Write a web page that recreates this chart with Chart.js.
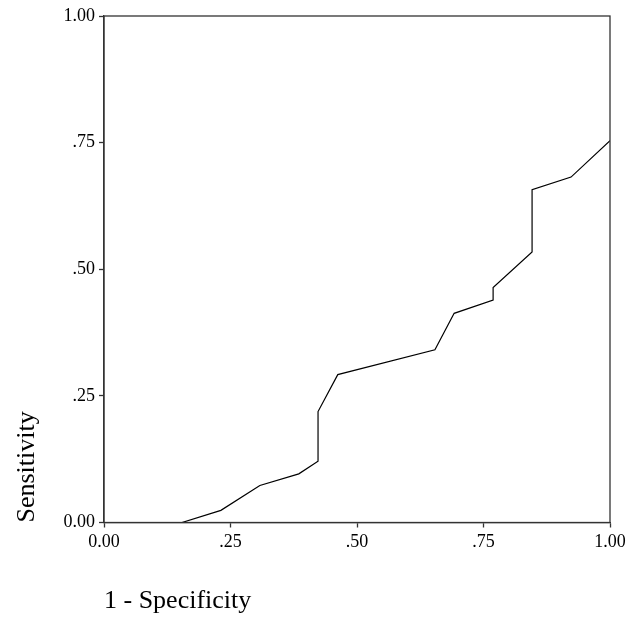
<!DOCTYPE html>
<html>
<head>
<meta charset="utf-8">
<script src="https://cdn.jsdelivr.net/npm/chart.js@4/dist/chart.umd.min.js"></script>
<style>
  html, body { margin: 0; padding: 0; background: #fff; }
  #box { width: 633px; height: 621px; }
</style>
</head>
<body>
<div id="box"><canvas id="roc"></canvas></div>
<script>
// ROC curve values
const specComplement = [0, 0.154, 0.231, 0.308, 0.385, 0.423, 0.423, 0.462, 0.654, 0.692, 0.769, 0.769, 0.846, 0.846, 0.923, 1];
const sensitivity    = [0, 0,     0.024, 0.073, 0.096, 0.121, 0.219, 0.292, 0.341, 0.413, 0.439, 0.464, 0.534, 0.657, 0.682, 0.754];
const tickValues = [0, 0.25, 0.5, 0.75, 1];
const tickLabels = ['0.00', '.25', '.50', '.75', '1.00'];

const pts = specComplement.map((x, i) => ({ x: x, y: sensitivity[i] }));

function labelFor(v) {
    const i = tickValues.findIndex(t => Math.abs(t - v) < 1e-6);
    return i >= 0 ? tickLabels[i] : '';
}

// draws the frame round the plot area (top and right sides)
const frame = {
    id: 'frame',
    afterDraw(chart) {
        const a = chart.chartArea;
        const c = chart.ctx;
        c.save();
        c.strokeStyle = '#333';
        c.lineWidth = 1.3;
        c.strokeRect(a.left, a.top, a.right - a.left, a.bottom - a.top);
        c.restore();
    }
};

const serif = 'Liberation Serif, Times New Roman, serif';

new Chart(document.getElementById('roc'), {
    type: 'scatter',
    data: {
        datasets: [{
            data: pts,
            showLine: true,
            borderColor: '#000',
            borderWidth: 1.2,
            pointRadius: 0,
            tension: 0
        }]
    },
    options: {
        responsive: true,
        maintainAspectRatio: false,
        animation: false,
        layout: { padding: { top: 16, right: 23, left: 0, bottom: 0 } },
        plugins: { legend: { display: false }, tooltip: { enabled: false } },
        scales: {
            x: {
                type: 'linear',
                min: 0, max: 1,
                afterBuildTicks: s => { s.ticks = tickValues.map(v => ({ value: v })); },
                afterFit: s => { s.height = 98.5; },
                ticks: {
                    callback: v => labelFor(v),
                    color: '#000',
                    font: { family: serif, size: 18 },
                    padding: 4,
                    maxRotation: 0
                },
                grid: { drawOnChartArea: false, tickLength: 5, color: '#333', tickWidth: 1.3 },
                border: { color: '#333', width: 1.3 },
                title: {
                    display: true,
                    text: '1 - Specificity',
                    align: 'start',
                    color: '#000',
                    font: { family: serif, size: 26 },
                    padding: { top: 0, bottom: 4 }
                }
            },
            y: {
                type: 'linear',
                min: 0, max: 1,
                afterBuildTicks: s => { s.ticks = tickValues.map(v => ({ value: v })); },
                afterFit: s => { s.width = 104; },
                ticks: {
                    callback: v => labelFor(v),
                    color: '#000',
                    font: { family: serif, size: 18 },
                    padding: 4
                },
                grid: { drawOnChartArea: false, tickLength: 5, color: '#333', tickWidth: 1.3 },
                border: { color: '#333', width: 1.3 },
                title: {
                    display: true,
                    text: 'Sensitivity',
                    align: 'start',
                    color: '#000',
                    font: { family: serif, size: 26 },
                    padding: { top: 12, bottom: 0 }
                }
            }
        }
    },
    plugins: [frame]
});
</script>
</body>
</html>
